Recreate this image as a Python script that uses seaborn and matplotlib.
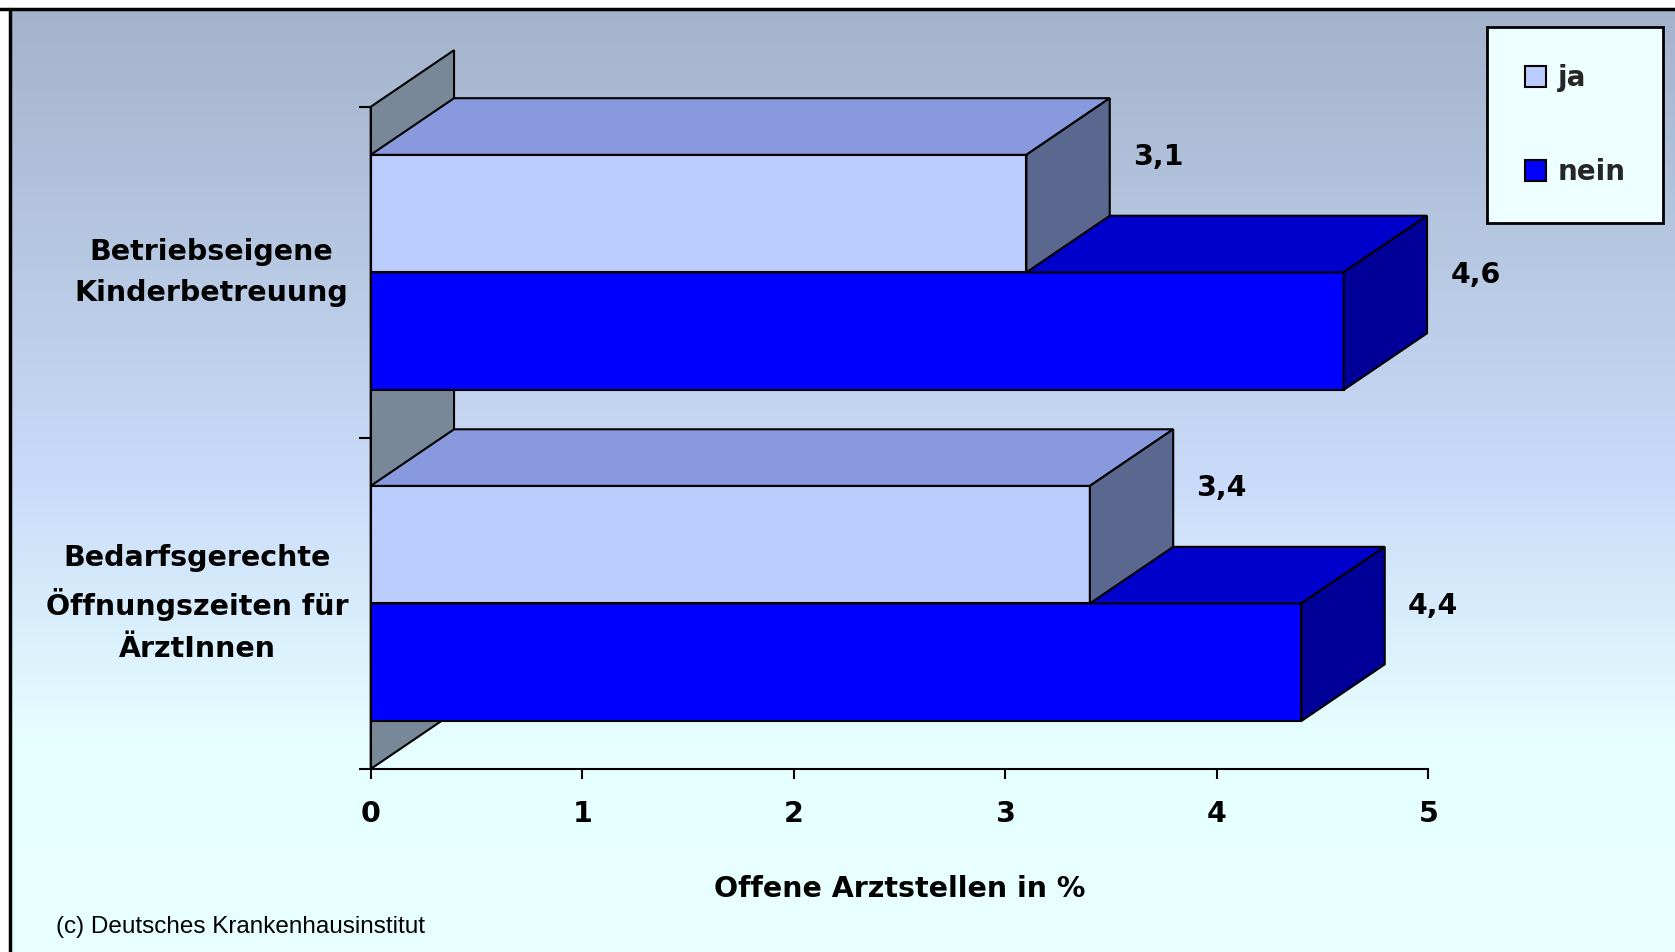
import numpy as np
import pandas as pd
import matplotlib
matplotlib.use("Agg")
import matplotlib.pyplot as plt
from matplotlib.patches import Polygon, Patch
from matplotlib.lines import Line2D
from matplotlib.colors import to_rgb
import seaborn as sns

# ---- data ----
categories = ["Betriebseigene\nKinderbetreuung",
              "Bedarfsgerechte\nÖffnungszeiten für\nÄrztInnen"]
series_names = ["ja", "nein"]
ja_values = [3.1, 3.4]
nein_values = [4.6, 4.4]
x_ticks = [0, 1, 2, 3, 4, 5]
x_label = "Offene Arztstellen in %"
footer = "(c) Deutsches Krankenhausinstitut"

# ---- styling ----
front_colors = {"ja": "#BBCCFF", "nein": "#0000FF"}
top_colors = {"ja": "#8899DD", "nein": "#0000CC"}
side_colors = {"ja": "#5A6890", "nein": "#000099"}
wall_color = "#788898"
depth_x, depth_y = 0.394, 0.171   # 3-D extrusion in data units
edge_lw = 1.5
label_size = 20.5

sns.set_theme(style="white")
plt.rcParams["font.family"] = ["DejaVu Sans"]

W, H = 1675, 952
fig = plt.figure(figsize=(W / 100, H / 100), dpi=100)
fig.patch.set_facecolor("white")

# vertical multi-stop gradient background
bg = fig.add_axes([11 / W, 0, 1 - 11 / W, 1 - 9 / H], zorder=-10)
stops = np.array([0.0, 0.5, 0.78, 1.0])
stop_colors = np.array([[163, 179, 203], [201, 219, 248],
                        [230, 255, 255], [232, 255, 255]]) / 255
t = np.linspace(0, 1, 512)
grad = np.stack([np.interp(t, stops, stop_colors[:, c]) for c in range(3)], axis=-1)
bg.imshow(grad[:, None, :], aspect="auto", extent=[0, 1, 0, 1])
bg.axis("off")

# frame lines along top and left edge
fig.add_artist(Line2D([0, 1], [1 - 9 / H] * 2, transform=fig.transFigure,
                      color="black", lw=2.5))
fig.add_artist(Line2D([10 / W] * 2, [0, 1 - 9 / H], transform=fig.transFigure,
                      color="black", lw=2.5))

ax = fig.add_axes([370.7 / W, 183 / H, 1057.6 / W, 662.2 / H])
ax.set_facecolor("none")

df = pd.DataFrame({
    "Kategorie": categories * 2,
    "Antwort": ["ja"] * len(ja_values) + ["nein"] * len(nein_values),
    "Wert": ja_values + nein_values,
})
sns.barplot(data=df, x="Wert", y="Kategorie", hue="Antwort",
            hue_order=series_names, order=categories, orient="h",
            width=0.71, palette=front_colors, saturation=1,
            edgecolor="black", linewidth=edge_lw, legend=False, ax=ax)

ax.set_xlim(0, 5)
ax.set_ylim(len(categories) - 0.5, -0.5)

# back wall of the 3-D box
y_lo, y_hi = len(categories) - 0.5, -0.5
ax.add_patch(Polygon([(0, y_lo), (0, y_hi), (depth_x, y_hi - depth_y),
                      (depth_x, y_lo - depth_y)], closed=True, fc=wall_color,
                     ec="black", lw=edge_lw, zorder=1, clip_on=False))

# extrude each bar: top face + end face, then the value label
for bar in list(ax.patches):
    if not hasattr(bar, "get_width") or bar.get_width() <= 0:
        continue
    rgb = to_rgb(bar.get_facecolor())
    name = "ja" if np.allclose(rgb, to_rgb(front_colors["ja"]), atol=0.02) else "nein"
    z = 4 if name == "ja" else 3
    x0, w = bar.get_x(), bar.get_width()
    y0, h = bar.get_y(), bar.get_height()
    bar.set_zorder(z)
    ax.add_patch(Polygon([(x0, y0), (x0 + w, y0), (x0 + w + depth_x, y0 - depth_y),
                          (x0 + depth_x, y0 - depth_y)], closed=True,
                         fc=top_colors[name], ec="black", lw=edge_lw, zorder=z,
                         clip_on=False))
    ax.add_patch(Polygon([(x0 + w, y0), (x0 + w, y0 + h),
                          (x0 + w + depth_x, y0 + h - depth_y),
                          (x0 + w + depth_x, y0 - depth_y)], closed=True,
                         fc=side_colors[name], ec="black", lw=edge_lw, zorder=z,
                         clip_on=False))
    ax.text(x0 + w + depth_x + 0.11, y0 + h / 2 - depth_y,
            f"{w:.1f}".replace(".", ","), ha="left", va="center",
            fontsize=label_size, fontweight="bold", color="black", zorder=6)

# axes, ticks, labels
for s in ["top", "right"]:
    ax.spines[s].set_visible(False)
for s in ["left", "bottom"]:
    ax.spines[s].set_color("black")
    ax.spines[s].set_linewidth(edge_lw)
    ax.spines[s].set_zorder(5)

ax.set_xticks(x_ticks)
ax.set_xticklabels([str(v) for v in x_ticks], fontsize=label_size, fontweight="bold")
ax.set_yticks(range(len(categories)))
ax.set_yticklabels(categories, fontsize=label_size, fontweight="bold")
for lbl in ax.get_yticklabels():
    lbl.set_multialignment("center")
    lbl.set_linespacing(1.6)
    lbl.set_verticalalignment("center")
ax.set_yticks(np.arange(-0.5, len(categories), 1.0), minor=True)
ax.tick_params(axis="y", which="major", length=0, pad=16, labelcolor="black")
ax.tick_params(axis="y", which="minor", left=True, length=9, width=edge_lw,
               color="black", direction="out")
ax.tick_params(axis="x", which="major", bottom=True, length=7, width=edge_lw,
               color="black", direction="out", pad=15, labelcolor="black")
ax.set_ylabel("")
ax.set_xlabel(x_label, fontsize=label_size, fontweight="bold", color="black",
              labelpad=34)

# legend
handles = [Patch(fc=front_colors[n], ec="black", lw=edge_lw, label=n)
           for n in series_names]
leg = fig.legend(handles=handles, loc="upper right",
                 bbox_to_anchor=(1663 / W, 1 - 27 / H), frameon=True,
                 fancybox=False, framealpha=1, facecolor="#EEFFFF",
                 edgecolor="black", prop=dict(weight="bold", size=20),
                 handlelength=0.78, handleheight=0.78, handletextpad=0.4,
                 labelspacing=2.35, borderpad=1.35, borderaxespad=0)
leg.get_frame().set_linewidth(2)

fig.text(56 / W, 1 - 927 / H, footer, fontsize=17.5, ha="left", va="center",
         family=["Liberation Sans", "DejaVu Sans"], color="black")

fig.savefig("out.png", dpi=100, facecolor=fig.get_facecolor())
